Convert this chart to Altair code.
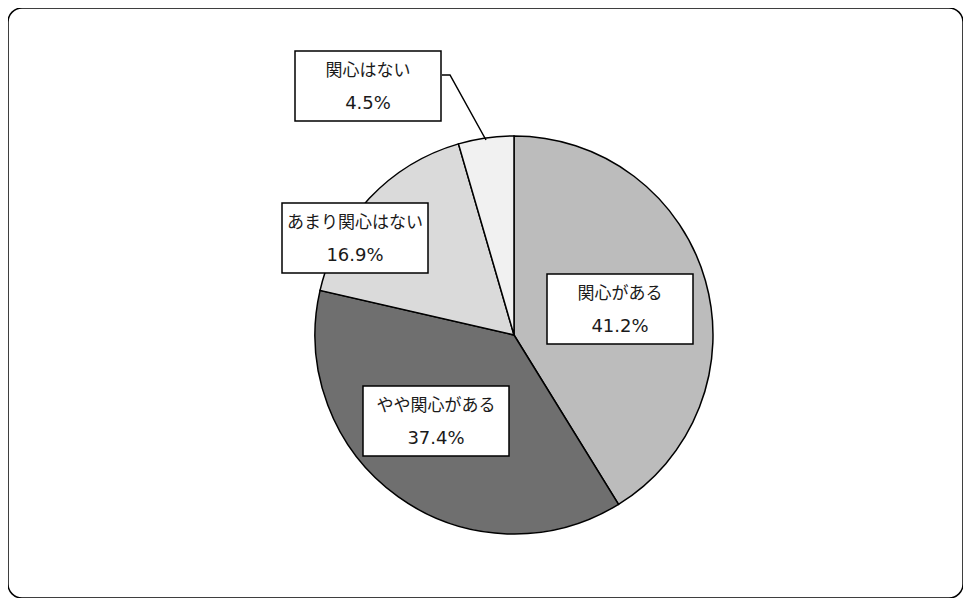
import altair as alt
import pandas as pd

# data
categories = ["関心がある", "やや関心がある", "あまり関心はない", "関心はない"]
values = [41.2, 37.4, 16.9, 4.5]
pct_labels = ["41.2%", "37.4%", "16.9%", "4.5%"]

# styling / layout (separate from data)
fills = ["#bcbcbc", "#6f6f6f", "#dadada", "#f1f1f1"]
box_cx = [612, 428, 347, 360]      # label box centres (view px)
box_cy = [301, 413, 230, 78]
box_w, box_h = 146, 70
leader_x = [434, 442, 478]
leader_y = [67, 67, 132]
pie_cx, pie_cy, pie_r = 506, 327, 199

W, H = 955, 590

df = pd.DataFrame({
    "cat": categories,
    "val": values,
    "order": list(range(len(categories))),
    "pct": pct_labels,
    "fill": fills,
    "cx": box_cx,
    "cy": box_cy,
})
df["x1"] = df["cx"] - box_w / 2
df["x2"] = df["cx"] + box_w / 2
df["y1"] = df["cy"] - box_h / 2
df["y2"] = df["cy"] + box_h / 2
df["ty1"] = df["cy"] - 15
df["ty2"] = df["cy"] + 18

lead = pd.DataFrame({"x": leader_x, "y": leader_y, "i": [0, 1, 2]})

base = alt.Chart(df)

pie = base.mark_arc(outerRadius=pie_r, stroke="black", strokeWidth=1.5).encode(
    theta=alt.Theta("val:Q", stack=True),
    order=alt.Order("order:Q"),
    color=alt.Color("fill:N", scale=None),
    x=alt.value(pie_cx),
    y=alt.value(pie_cy),
)

boxes = base.mark_rect(fill="white", stroke="black", strokeWidth=1.5).encode(
    x=alt.X("x1:Q", scale=None),
    x2="x2:Q",
    y=alt.Y("y1:Q", scale=None),
    y2="y2:Q",
)

t1 = base.mark_text(font="Noto Sans CJK JP", fontSize=17, color="#1a1a1a",
                    baseline="middle", align="center").encode(
    x=alt.X("cx:Q", scale=None),
    y=alt.Y("ty1:Q", scale=None),
    text="cat:N",
)
t2 = base.mark_text(font="DejaVu Sans", fontSize=18, color="#1a1a1a",
                    baseline="middle", align="center").encode(
    x=alt.X("cx:Q", scale=None),
    y=alt.Y("ty2:Q", scale=None),
    text="pct:N",
)

leader = alt.Chart(lead).mark_line(color="black", strokeWidth=1.5).encode(
    x=alt.X("x:Q", scale=None),
    y=alt.Y("y:Q", scale=None),
    order="i:Q",
)

chart = alt.layer(pie, leader, boxes, t1, t2).properties(
    width=W, height=H, padding=0
).configure_view(
    stroke="black", strokeWidth=1.5, cornerRadius=14
)

chart.save("out.html", embed_options={"renderer": "svg", "actions": False})
